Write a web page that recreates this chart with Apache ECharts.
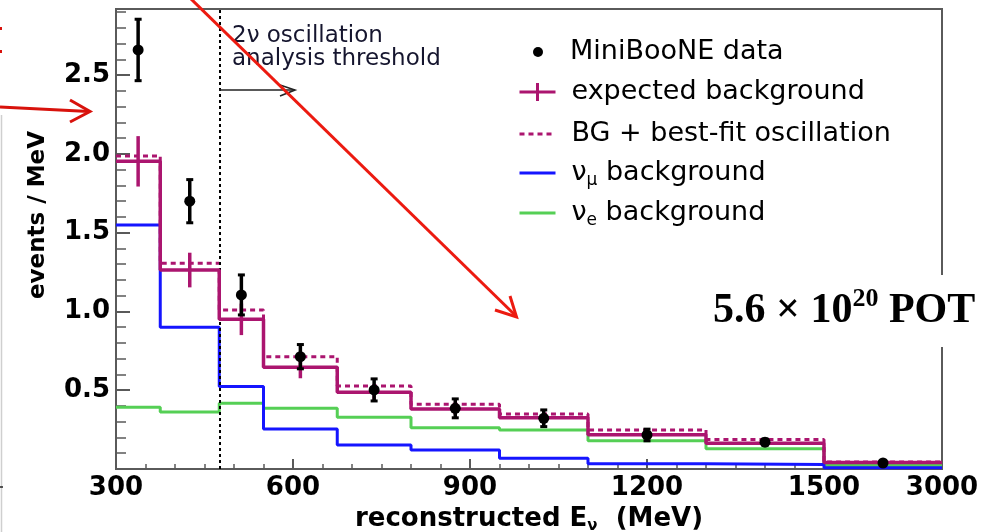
<!DOCTYPE html>
<html>
<head>
<meta charset="utf-8">
<script src="https://cdn.jsdelivr.net/npm/echarts@6/dist/echarts.min.js"></script>
<style>
  html, body { margin: 0; padding: 0; background: #fff; }
  #chart { width: 994px; height: 532px; }
</style>
</head>
<body>
<div id="chart"></div>
<script>
// Bin edges of reconstructed neutrino energy (MeV)
const binEdges = [300, 375, 475, 550, 675, 800, 950, 1100, 1300, 1500, 3000];

// Observed events / MeV with statistical errors
const dataValues = [2.66, 1.70, 1.105, 0.713, 0.502, 0.385, 0.322, 0.216, 0.170, 0.038];
const dataErrors = [0.195, 0.137, 0.127, 0.077, 0.070, 0.060, 0.053, 0.037, 0.020, 0.010];

// Expected background with systematic errors
const expectedBg = [1.953, 1.263, 0.950, 0.646, 0.487, 0.381, 0.326, 0.218, 0.164, 0.042];
const expectedErr = [0.160, 0.110, 0.100, 0.070, 0.050, 0.035, 0.030, 0.020, 0.020, 0.005];

// Background plus best-fit oscillation signal
const bestFitOsc = [1.987, 1.306, 1.010, 0.713, 0.527, 0.411, 0.349, 0.248, 0.187, 0.045];

// Background components
const numuBg = [1.549, 0.900, 0.523, 0.254, 0.152, 0.121, 0.068, 0.033, 0.028, 0.008];
const nueBg  = [0.392, 0.362, 0.417, 0.385, 0.328, 0.262, 0.248, 0.180, 0.128, 0.022];

// Axis ticks
const xTickValues = [300, 600, 900, 1200, 1500, 3000];
const yTickValues = [0.5, 1.0, 1.5, 2.0, 2.5];
const thresholdMeV = 475;

// The last bin (1500-3000 MeV) is drawn compressed to the width of 200 MeV
const breakAt = 1500, tailEnd = 3000, tailSpan = 200;
function toAxis(e) {
  return e <= breakAt ? e : breakAt + (e - breakAt) * tailSpan / (tailEnd - breakAt);
}
function fromAxis(v) {
  return v <= breakAt ? v : Math.round(breakAt + (v - breakAt) * (tailEnd - breakAt) / tailSpan);
}

const MAGENTA = '#ab156f';
const BLUE = '#1515ff';
const GREEN = '#55cf55';

function stepPoints(values) {
  const pts = values.map((v, i) => [toAxis(binEdges[i]), v]);
  pts.push([toAxis(binEdges[binEdges.length - 1]), values[values.length - 1]]);
  return pts;
}
function centred(values, errs) {
  return values.map((v, i) => [toAxis((binEdges[i] + binEdges[i + 1]) / 2), v, errs[i]]);
}

const minorX = [];
for (let e = 300; e <= 1500; e += 50) minorX.push(e);
const minorY = [];
for (let k = 1; k <= 29; k++) minorY.push(+(k * 0.1).toFixed(1));

const xMin = toAxis(binEdges[0]);
const xMax = toAxis(binEdges[binEdges.length - 1]);

const chart = echarts.init(document.getElementById('chart'), null, { renderer: 'canvas' });

const baseLabel = { fontFamily: 'DejaVu Sans', fontWeight: 'bold', fontSize: 26, color: '#000' };
const legendText = {
  fontFamily: 'DejaVu Sans', fontSize: 27, color: '#000', lineHeight: 32,
  rich: {
    n: { fontFamily: 'DejaVu Sans', fontSize: 27, lineHeight: 32, color: '#000' },
    s: { fontFamily: 'DejaVu Sans', fontSize: 17, lineHeight: 17, color: '#000', verticalAlign: 'bottom' }
  }
};
function legendFormatter(name) {
  if (name === 'numu background') return '{n|ν}{s|μ}{n| background}';
  if (name === 'nue background') return '{n|ν}{s|e}{n| background}';
  return name;
}
function makeLegend(name, left, top, opts) {
  return Object.assign({
    show: true, orient: 'vertical', left: left, top: top, padding: 0,
    selectedMode: false, itemWidth: 36, itemHeight: 14,
    formatter: legendFormatter,
    textStyle: Object.assign({}, legendText, { padding: [0, 0, 0, 11] }),
    lineStyle: { width: 3 },
    data: [{ name: name, itemStyle: { opacity: 0 } }]
  }, opts || {});
}

const option = {
  backgroundColor: '#fff',
  animation: false,
  grid: {
    left: 116, right: 52, top: 9, bottom: 63,
    show: true, borderColor: '#5a5a5a', borderWidth: 2, backgroundColor: 'transparent',
    containLabel: false, outerBoundsMode: 'none'
  },
  xAxis: [{
    type: 'value', min: xMin, max: xMax,
    axisLine: { show: true, lineStyle: { color: '#5a5a5a', width: 2 } },
    splitLine: { show: false },
    axisTick: { show: true, inside: true, length: 10, customValues: xTickValues.map(toAxis),
                lineStyle: { color: '#5a5a5a', width: 2 } },
    axisLabel: Object.assign({ margin: 6, customValues: xTickValues.map(toAxis),
                formatter: v => String(fromAxis(v)) }, baseLabel),
    name: '{a|reconstructed E}{s|ν}{a|  (MeV)}',
    nameLocation: 'middle', nameGap: 35,
    nameTextStyle: {
      rich: {
        a: { fontFamily: 'DejaVu Sans', fontWeight: 'bold', fontSize: 26, lineHeight: 30, color: '#000' },
        s: { fontFamily: 'DejaVu Sans', fontWeight: 'bold', fontSize: 15, lineHeight: 15, color: '#000', verticalAlign: 'bottom' }
      }
    }
  }, {
    type: 'value', min: xMin, max: xMax, position: 'bottom',
    axisLine: { show: false }, splitLine: { show: false },
    axisTick: { show: true, inside: true, length: 5, customValues: minorX.map(toAxis),
                lineStyle: { color: '#5a5a5a', width: 1.5 } },
    axisLabel: { show: false }
  }],
  yAxis: [{
    type: 'value', min: 0, max: 2.92, position: 'left',
    axisLine: { show: true, lineStyle: { color: '#5a5a5a', width: 2 } },
    splitLine: { show: false },
    axisTick: { show: true, inside: true, length: 14, customValues: yTickValues,
                lineStyle: { color: '#5a5a5a', width: 2 } },
    axisLabel: Object.assign({ margin: 6, customValues: yTickValues,
                formatter: v => v.toFixed(1) }, baseLabel),
    name: 'events / MeV', nameLocation: 'middle', nameGap: 66, nameRotate: 90,
    nameTextStyle: { fontFamily: 'DejaVu Sans', fontWeight: 'bold', fontSize: 23, color: '#000',
                     padding: [0, 0, 0, 48] }
  }, {
    type: 'value', min: 0, max: 2.92, position: 'left', offset: 0,
    axisLine: { show: false }, splitLine: { show: false },
    axisTick: { show: true, inside: true, length: 10, customValues: minorY,
                lineStyle: { color: '#5a5a5a', width: 1.5 } },
    axisLabel: { show: false }
  }],
  legend: [
    makeLegend('MiniBooNE data', 533, 36, {
      itemWidth: 10, itemHeight: 10, icon: 'circle',
      textStyle: Object.assign({}, legendText, { padding: [0, 0, 0, 22] }),
      data: [{ name: 'MiniBooNE data', itemStyle: { color: '#000' } }]
    }),
    makeLegend('expected background', 518, 76, {
      itemHeight: 18,
      data: [{ name: 'expected background', icon: 'path://M0,9L36,9M18,0L18,18',
               itemStyle: { color: 'rgba(0,0,0,0)', borderColor: MAGENTA, borderWidth: 3, opacity: 1 } }]
    }),
    makeLegend('BG + best-fit oscillation', 518, 118),
    makeLegend('numu background', 518, 157),
    makeLegend('nue background', 518, 197)
  ],
  series: [
    {
      name: 'nue background', type: 'line', step: 'end', symbol: 'none',
      xAxisIndex: 0, yAxisIndex: 0, z: 2,
      lineStyle: { color: GREEN, width: 3 }, itemStyle: { color: GREEN },
      data: stepPoints(nueBg)
    },
    {
      name: 'numu background', type: 'line', step: 'end', symbol: 'none',
      xAxisIndex: 0, yAxisIndex: 0, z: 3,
      lineStyle: { color: BLUE, width: 3 }, itemStyle: { color: BLUE },
      data: stepPoints(numuBg)
    },
    {
      name: 'BG + best-fit oscillation', type: 'line', step: 'end', symbol: 'none',
      xAxisIndex: 0, yAxisIndex: 0, z: 4,
      lineStyle: { color: MAGENTA, width: 3, type: [5, 4] }, itemStyle: { color: MAGENTA },
      data: stepPoints(bestFitOsc)
    },
    {
      name: 'expected background', type: 'line', step: 'end', symbol: 'none',
      xAxisIndex: 0, yAxisIndex: 0, z: 5,
      lineStyle: { color: MAGENTA, width: 3.5 }, itemStyle: { color: MAGENTA },
      data: stepPoints(expectedBg),
      markLine: {
        silent: true, symbol: 'none', animation: false,
        label: { show: false },
        lineStyle: { color: '#000', width: 2, type: [3, 3] },
        data: [{ xAxis: toAxis(thresholdMeV) }]
      }
    },
    {
      name: 'expected background errors', type: 'custom', z: 6,
      xAxisIndex: 0, yAxisIndex: 0,
      encode: { x: 0, y: 1 },
      data: centred(expectedBg, expectedErr),
      renderItem: function (params, api) {
        const x = api.value(0), y = api.value(1), e = api.value(2);
        const top = api.coord([x, y + e]), bot = api.coord([x, y - e]);
        return {
          type: 'line',
          shape: { x1: top[0], y1: top[1], x2: bot[0], y2: bot[1] },
          style: { stroke: MAGENTA, lineWidth: 3.5 }
        };
      }
    },
    {
      name: 'MiniBooNE data', type: 'custom', z: 7,
      xAxisIndex: 0, yAxisIndex: 0,
      encode: { x: 0, y: 1 },
      itemStyle: { color: '#000' },
      data: centred(dataValues, dataErrors),
      renderItem: function (params, api) {
        const x = api.value(0), y = api.value(1), e = api.value(2);
        const top = api.coord([x, y + e]), bot = api.coord([x, y - e]), c = api.coord([x, y]);
        const cap = 3.5;
        return {
          type: 'group',
          children: [
            { type: 'line', shape: { x1: top[0], y1: top[1], x2: bot[0], y2: bot[1] },
              style: { stroke: '#000', lineWidth: 3.5 } },
            { type: 'line', shape: { x1: top[0] - cap, y1: top[1], x2: top[0] + cap, y2: top[1] },
              style: { stroke: '#000', lineWidth: 3 } },
            { type: 'line', shape: { x1: bot[0] - cap, y1: bot[1], x2: bot[0] + cap, y2: bot[1] },
              style: { stroke: '#000', lineWidth: 3 } },
            { type: 'circle', shape: { cx: c[0], cy: c[1], r: 5.5 }, style: { fill: '#000' } }
          ]
        };
      }
    }
  ],
  graphic: [
    // threshold caption and arrow
    { type: 'text', left: 232, top: 25, z: 50,
      style: { text: '2ν oscillation\nanalysis threshold', fontFamily: 'DejaVu Sans', fontSize: 23,
               lineHeight: 23, fill: '#15152e' } },
    { type: 'line', z: 50, shape: { x1: 219, y1: 90, x2: 295, y2: 90 },
      style: { stroke: '#222', lineWidth: 1.6 } },
    { type: 'polyline', z: 50, shape: { points: [[280, 85], [295, 90], [280, 96]] },
      style: { stroke: '#222', lineWidth: 1.6, fill: null } },
    // exposure label
    { type: 'text', z: 60, x: 705, y: 311,
      style: { text: '{m|5.6 × 10}{p|20}{m| POT}', fill: '#000', verticalAlign: 'middle',
               backgroundColor: '#fff', padding: [11, 6, 11, 8],
               rich: {
                 m: { fontFamily: 'Liberation Serif', fontWeight: 'bold', fontSize: 42, lineHeight: 50, fill: '#000' },
                 p: { fontFamily: 'Liberation Serif', fontWeight: 'bold', fontSize: 26, lineHeight: 34, fill: '#000', verticalAlign: 'top' }
               } } },
    // red pointer arrows
    { type: 'line', z: 100, shape: { x1: 189, y1: -3, x2: 516, y2: 316 },
      style: { stroke: '#ec1a10', lineWidth: 3 } },
    { type: 'polyline', z: 100, shape: { points: [[495, 310], [516.5, 317], [510, 296]] },
      style: { stroke: '#ec1a10', lineWidth: 3, fill: null } },
    { type: 'line', z: 100, shape: { x1: 0, y1: 107, x2: 89, y2: 111.5 },
      style: { stroke: '#d8120c', lineWidth: 3 } },
    { type: 'polyline', z: 100, shape: { points: [[70, 100], [90, 111.5], [70, 122]] },
      style: { stroke: '#d8120c', lineWidth: 3, fill: null } },
    { type: 'rect', z: 100, shape: { x: 0, y: 27, width: 2, height: 3 }, style: { fill: '#d8120c' } },
    { type: 'rect', z: 100, shape: { x: 0, y: 50, width: 2, height: 3 }, style: { fill: '#d8120c' } },
    // page edge remnants
    { type: 'line', z: 1, shape: { x1: 1.5, y1: 115, x2: 1.5, y2: 532 },
      style: { stroke: '#cfcfcf', lineWidth: 1.5 } },
    { type: 'line', z: 1, shape: { x1: 0, y1: 487, x2: 3, y2: 487 },
      style: { stroke: '#222', lineWidth: 1.5 } }
  ]
};

chart.setOption(option);
</script>
</body>
</html>
